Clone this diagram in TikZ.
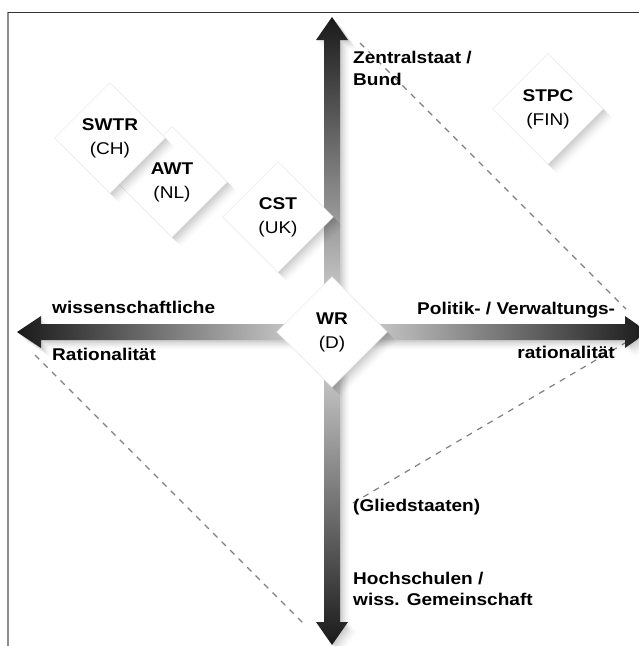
\documentclass[tikz,border=0pt]{standalone}
\usepackage{fontspec}
\setmainfont{Liberation Sans}[FakeStretch=1.12]
\usetikzlibrary{shapes.geometric,shadows}

\tikzset{
  soft shadow/.style={
    drop shadow={shadow xshift=1.5pt,shadow yshift=-1.5pt,opacity=.04,fill=black},
    drop shadow={shadow xshift=3pt,shadow yshift=-3pt,opacity=.04,fill=black},
    drop shadow={shadow xshift=4.5pt,shadow yshift=-4.5pt,opacity=.035,fill=black},
    drop shadow={shadow xshift=6pt,shadow yshift=-6pt,opacity=.03,fill=black},
    drop shadow={shadow xshift=7.5pt,shadow yshift=-7.5pt,opacity=.025,fill=black},
    drop shadow={shadow xshift=9pt,shadow yshift=-9pt,opacity=.02,fill=black}},
  council/.style={diamond, aspect=1, minimum width=111pt, minimum height=111pt,
    inner sep=0pt, fill=white, draw=black!10, line width=.4pt, soft shadow,
    align=center, font=\fontsize{17}{24}\selectfont},
  axislabel/.style={inner sep=0pt, align=left, font=\fontsize{17}{22}\selectfont\bfseries},
  border/.style={dash pattern=on 6pt off 6pt, black!50, line width=1.2pt}
}

\begin{document}
\begin{tikzpicture}[x=1pt,y=-1pt]
	\useasboundingbox (0,0) rectangle (639,646);
	\clip (0,0) rectangle (639,646);
	\fill[white] (0,0) rectangle (639,646);

	%frame
	\draw[black!45, line width=1.3pt] (8,646) -- (8,12);
	\draw[black!80, line width=1pt] (8,12) -- (639,12);

	%borders
	\coordinate (zb) at (360,43);
	\coordinate (pe) at (626,309);
	\coordinate (ws) at (35,355);
	\coordinate (hs) at (305,625);
	\coordinate (gs) at (353,503);
	\coordinate (re) at (630,340);
	\draw[border] (zb) -- (pe);
	\draw[border] (ws) -- (hs);
	\draw[border] (gs) -- (re);

	%axes
	\path[top color=black!90, middle color=black!60, bottom color=black!12, soft shadow]
		(324,332) -- (324,40) -- (316,40) -- (332,17) -- (348,40) -- (340,40) -- (340,332) -- cycle;
	\path[bottom color=black!90, middle color=black!60, top color=black!12, soft shadow]
		(324,332) -- (324,622) -- (316,622) -- (332,645) -- (348,622) -- (340,622) -- (340,332) -- cycle;
	\path[left color=black!90, middle color=black!60, right color=black!12, soft shadow]
		(332,324) -- (41,324) -- (41,316) -- (17,332) -- (41,348) -- (41,340) -- (332,340) -- cycle;
	\path[right color=black!90, middle color=black!60, left color=black!12, soft shadow]
		(332,324) -- (625,324) -- (625,316) -- (648,332) -- (625,348) -- (625,340) -- (332,340) -- cycle;

	%councils
	\node[council] (awt) at (172,182) {\textbf{AWT}\\(NL)};
	\node[council] (swtr) at (110,138) {\textbf{SWTR}\\(CH)};
	\node[council] (cst) at (278,217) {\textbf{CST}\\(UK)};
	\node[council] (stpc) at (548,109) {\textbf{STPC}\\(FIN)};
	\node[council] (wr) at (332,332) {\textbf{WR}\\(D)};

	%labels
	\node[axislabel, anchor=north west] (zentral) at (353,51) {Zentralstaat /\\Bund};
	\node[axislabel, anchor=north west] (wiss) at (52,301) {wissenschaftliche};
	\node[axislabel, anchor=north west] (ratio) at (52,348) {Rationalität};
	\node[axislabel, anchor=north west] (politik) at (417,302) {Politik- / Verwaltungs-};
	\node[axislabel, anchor=north east] (pratio) at (615,346) {rationalität};
	\node[axislabel, anchor=north west] (glied) at (353,499) {(Gliedstaaten)};
	\node[axislabel, anchor=north west, font=\fontsize{17}{21}\selectfont\bfseries] (hoch) at (353,572) {Hochschulen /\\wiss. Gemeinschaft};
\end{tikzpicture}
\end{document}
